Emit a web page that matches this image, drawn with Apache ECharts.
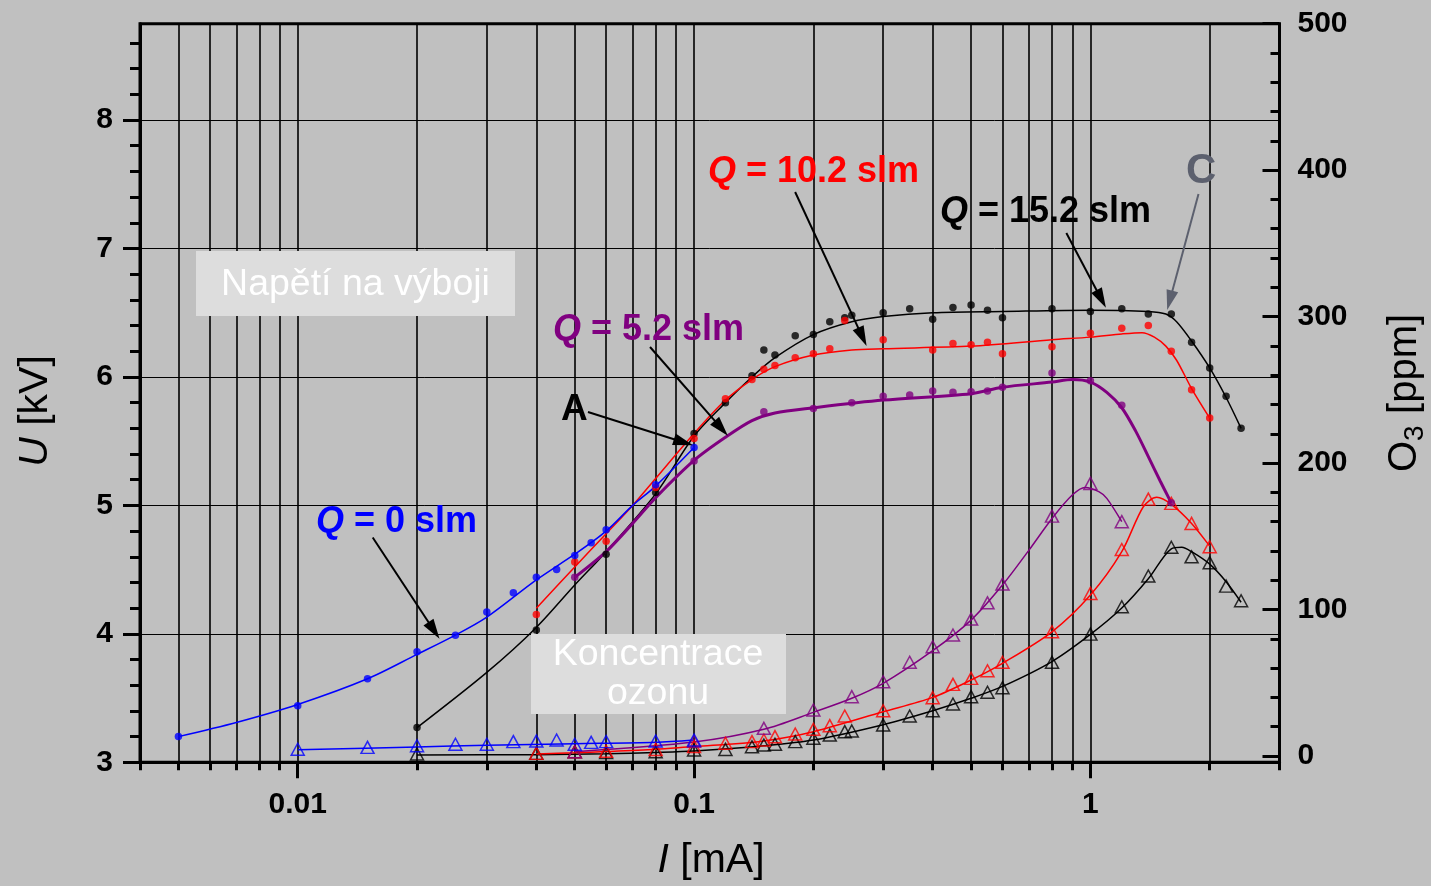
<!DOCTYPE html>
<html>
<head>
<meta charset="utf-8">
<title>U and O3 vs I</title>
<script src="https://cdn.jsdelivr.net/npm/echarts@6/dist/echarts.min.js"></script>
<style>
  html, body { margin: 0; padding: 0; background: #c0c0c0; }
  #chart { width: 1431px; height: 886px; }
</style>
</head>
<body>
<div id="chart"></div>
<script>
// ---- Discharge voltage U [kV] vs current I [mA]: measured points ----
const uQ0 = [[0.005,3.20],[0.01,3.44],[0.015,3.65],[0.02,3.86],[0.025,3.99],[0.03,4.17],[0.035,4.32],[0.04,4.44],[0.045,4.50],[0.05,4.61],[0.055,4.71],[0.06,4.81],[0.08,5.16],[0.1,5.45]];
const uQ5 = [[0.05,4.44],[0.1,5.345],[0.15,5.73],[0.2,5.755],[0.25,5.80],[0.3,5.85],[0.35,5.86],[0.4,5.89],[0.45,5.88],[0.5,5.885],[0.55,5.89],[0.6,5.92],[0.8,6.03],[1.0,5.97],[1.2,5.78],[1.6,5.02]];
const uQ10 = [[0.04,4.15],[0.05,4.56],[0.06,4.72],[0.08,5.14],[0.1,5.52],[0.12,5.83],[0.14,5.98],[0.15,6.06],[0.16,6.09],[0.18,6.15],[0.2,6.18],[0.22,6.22],[0.24,6.44],[0.3,6.29],[0.4,6.21],[0.45,6.26],[0.5,6.25],[0.55,6.27],[0.6,6.18],[0.8,6.235],[1.0,6.34],[1.2,6.38],[1.4,6.40],[1.6,6.20],[1.8,5.90],[2.0,5.68]];
const uQ15 = [[0.02,3.27],[0.04,4.03],[0.06,4.62],[0.08,5.10],[0.1,5.56],[0.12,5.80],[0.14,6.01],[0.15,6.21],[0.16,6.17],[0.18,6.32],[0.2,6.33],[0.22,6.43],[0.24,6.46],[0.25,6.48],[0.3,6.50],[0.35,6.53],[0.4,6.45],[0.45,6.54],[0.5,6.56],[0.55,6.52],[0.6,6.46],[0.8,6.53],[1.0,6.51],[1.2,6.53],[1.4,6.49],[1.6,6.49],[1.8,6.27],[2.0,6.07],[2.2,5.85],[2.4,5.60]];

// ---- U fitted curves ----
const uFitQ0 = [[0.005,3.20],[0.007,3.31],[0.01,3.45],[0.015,3.65],[0.02,3.84],[0.025,3.99],[0.03,4.13],[0.04,4.42],[0.05,4.62],[0.06,4.80],[0.07,5.00],[0.08,5.15],[0.1,5.45]];
const uFitQ5 = [[0.05,4.44],[0.06,4.64],[0.07,4.86],[0.08,5.06],[0.1,5.35],[0.12,5.53],[0.14,5.66],[0.16,5.72],[0.2,5.76],[0.3,5.82],[0.5,5.87],[0.6,5.92],[0.8,5.96],[0.9,5.98],[1.0,5.96],[1.1,5.88],[1.2,5.76],[1.3,5.58],[1.4,5.38],[1.5,5.19],[1.6,5.02]];
const uFitQ10 = [[0.04,4.20],[0.05,4.52],[0.06,4.78],[0.07,5.00],[0.08,5.21],[0.1,5.56],[0.12,5.82],[0.14,5.98],[0.16,6.08],[0.2,6.17],[0.25,6.21],[0.3,6.22],[0.5,6.24],[0.8,6.29],[1.0,6.31],[1.2,6.335],[1.35,6.345],[1.45,6.31],[1.55,6.24],[1.65,6.13],[1.8,5.91],[2.0,5.68]];
const uFitQ15 = [[0.02,3.27],[0.03,3.70],[0.04,4.05],[0.05,4.38],[0.06,4.64],[0.08,5.09],[0.1,5.54],[0.12,5.80],[0.14,6.00],[0.16,6.15],[0.2,6.33],[0.25,6.43],[0.3,6.47],[0.4,6.50],[0.6,6.51],[1.0,6.52],[1.4,6.51],[1.55,6.49],[1.65,6.43],[1.8,6.28],[2.0,6.07],[2.2,5.84],[2.4,5.60]];

// ---- Ozone concentration O3 [ppm] vs I [mA]: measured points ----
const o3Q0 = [[0.01,4.6],[0.015,5.9],[0.02,7.0],[0.025,8.0],[0.03,8.0],[0.035,9.8],[0.04,10.2],[0.045,10.9],[0.05,8.0],[0.055,9.3],[0.06,9.8],[0.08,10.2],[0.1,10.9]];
const o3Q5 = [[0.05,2.9],[0.1,10.0],[0.15,18.9],[0.2,31.4],[0.25,40.5],[0.3,50.7],[0.35,64],[0.4,74.6],[0.45,82.6],[0.5,93.5],[0.55,104.6],[0.6,117.4],[0.8,163.8],[1.0,186.1],[1.2,160]];
const o3Q10 = [[0.04,1.8],[0.05,2.9],[0.06,3.2],[0.08,4.5],[0.1,6.5],[0.12,8.7],[0.14,9.8],[0.15,10.9],[0.16,13.2],[0.18,15.0],[0.2,18.2],[0.22,20.7],[0.24,27.3],[0.3,30.9],[0.4,39.8],[0.45,48.9],[0.5,53],[0.55,58.2],[0.6,64],[0.8,84.8],[1.0,111],[1.2,141],[1.4,175.4],[1.6,172.5],[1.8,158.8],[2.0,142.9]];
const o3Q15 = [[0.02,1.4],[0.04,1.8],[0.05,2.9],[0.06,2.3],[0.08,2.9],[0.1,4.1],[0.12,4.5],[0.14,6.3],[0.15,7.5],[0.16,8.0],[0.18,9.8],[0.2,12.1],[0.22,14.3],[0.24,16.6],[0.25,17.1],[0.3,21.2],[0.35,27.3],[0.4,30.9],[0.45,35.5],[0.5,40.5],[0.55,43.5],[0.6,46.6],[0.8,64],[1.0,83.2],[1.2,101.9],[1.4,122.9],[1.6,142.5],[1.8,136],[2.0,132],[2.2,116],[2.4,106]];

// ---- O3 fitted curves ----
const o3FitQ0 = [[0.01,4.2],[0.02,6.2],[0.03,7.3],[0.05,8.4],[0.08,9.4],[0.1,11]];
const o3FitQ5 = [[0.05,2.9],[0.1,9.5],[0.15,18.2],[0.2,29.8],[0.25,39.4],[0.3,49.6],[0.4,71.9],[0.5,92.8],[0.6,116.7],[0.7,140.6],[0.8,162.2],[0.9,178.2],[0.97,183.4],[1.05,180.5],[1.1,175.9],[1.2,160]];
const o3FitQ10 = [[0.04,1.4],[0.05,2.2],[0.06,3.0],[0.08,4.6],[0.1,6.5],[0.12,7.8],[0.15,10.2],[0.2,16.6],[0.3,30.2],[0.4,40],[0.5,51.9],[0.6,63.3],[0.8,84.8],[1.0,109.9],[1.2,139.5],[1.36,170.2],[1.47,176.6],[1.6,171.8],[1.8,158.8],[2.0,143.3]];
const o3FitQ15 = [[0.02,0.7],[0.04,0.9],[0.06,1.5],[0.08,2.4],[0.1,3.4],[0.15,7.0],[0.2,10.9],[0.3,21.4],[0.4,30.9],[0.5,39.4],[0.6,47.5],[0.8,64.5],[1.0,83],[1.2,101],[1.4,121],[1.6,141.5],[1.7,142.5],[1.8,139.5],[2.0,131],[2.2,119],[2.4,105]];

// ---- Axis ticks ----
const iMajorTicks = [0.01, 0.1, 1];
const iMinorTicks = [0.004,0.005,0.006,0.007,0.008,0.009,0.01,0.02,0.03,0.04,0.05,0.06,0.07,0.08,0.09,0.1,0.2,0.3,0.4,0.5,0.6,0.7,0.8,0.9,1,2,3];
const uMajorTicks = [3, 4, 5, 6, 7, 8];
const uMinorTicks = [3.2,3.4,3.6,3.8,4.2,4.4,4.6,4.8,5.2,5.4,5.6,5.8,6.2,6.4,6.6,6.8,7.2,7.4,7.6,7.8,8.2,8.4,8.6];

const FONT = '"Liberation Sans", Arial, Helvetica, sans-serif';
const C_BLUE = '#0000ff', C_RED = '#ff0000', C_BLACK = '#000000', C_PURPLE = '#800080', C_GREYC = '#5c606e';

const chart = echarts.init(document.getElementById('chart'), null, { renderer: 'canvas' });

const I_MIN = 0.004, I_MAX = 3;

function fitLine(pts, color, width, xi, yi) {
  return { type: 'line', data: pts, xAxisIndex: xi, yAxisIndex: yi, smooth: 0.3,
    symbol: 'none', showSymbol: false, silent: true, z: 3,
    lineStyle: { color: color, width: width } };
}
function dots(pts, color) {
  return { type: 'scatter', data: pts, xAxisIndex: 0, yAxisIndex: 0, symbol: 'circle',
    symbolSize: 7.5, silent: true, z: 4, itemStyle: { color: color } };
}
function triangles(pts, color) {
  return { type: 'scatter', data: pts, xAxisIndex: 2, yAxisIndex: 1, symbol: 'triangle',
    symbolSize: [13, 12], silent: true, z: 4,
    itemStyle: { color: 'rgba(0,0,0,0)', borderColor: color, borderWidth: 1.5 } };
}

// annotation arrows, expressed in (I, U) coordinates
function arrow(from, to, color) {
  return [{ coord: from, lineStyle: { color: color, width: 2, type: 'solid' } }, { coord: to }];
}
const arrows = [
  arrow([0.01546, 4.750], [0.02207, 4.026], C_BLACK),
  arrow([0.05399, 5.727], [0.09402, 5.491], C_BLACK),
  arrow([0.07743, 6.233], [0.1171, 5.601], C_BLACK),
  arrow([0.1799, 7.440], [0.2659, 6.312], C_BLACK),
  arrow([0.8696, 7.120], [1.065, 6.607], C_BLACK),
  arrow([1.874, 7.424], [1.586, 6.596], C_GREYC)
];

function qLabel(rest, color, x, y) {
  return { type: 'text', x: x, y: y, z: 100,
    style: { text: '{q|Q}{t|' + rest + '}', align: 'left', verticalAlign: 'middle',
      rich: {
        q: { fontFamily: FONT, fontSize: 36, fontWeight: 'bold', fontStyle: 'italic', fill: color },
        t: { fontFamily: FONT, fontSize: 36, fontWeight: 'bold', fill: color }
      } } };
}

const logAxisBase = { type: 'log', logBase: 10, min: I_MIN, max: I_MAX, gridIndex: 0, position: 'bottom' };
const tickLabelStyle = { color: '#000', fontFamily: FONT, fontSize: 30, fontWeight: 'bold' };

const option = {
  animation: false,
  backgroundColor: '#c0c0c0',
  grid: [
    { left: 140, right: 151.5, top: 23.7, bottom: 123.7, show: true, borderColor: '#000', borderWidth: 3,
      backgroundColor: 'transparent', containLabel: false, outerBoundsMode: 'none' },
    { left: 140, right: 151.5, top: 23.7, bottom: 130, show: false, containLabel: false, outerBoundsMode: 'none' }
  ],
  xAxis: [
    Object.assign({}, logAxisBase, {
      axisLine: { show: true, onZero: false, lineStyle: { color: '#000', width: 3 } },
      axisTick: { show: true, inside: false, length: 8, customValues: iMinorTicks, lineStyle: { color: '#000', width: 3 } },
      axisLabel: { show: false },
      splitLine: { show: true, lineStyle: { color: '#000', width: 1.6 } },
      minorTick: { show: false }, minorSplitLine: { show: false }
    }),
    Object.assign({}, logAxisBase, {
      axisLine: { show: false, onZero: false },
      axisTick: { show: true, inside: false, length: 16, customValues: iMajorTicks, lineStyle: { color: '#000', width: 3 } },
      axisLabel: Object.assign({ show: true, customValues: iMajorTicks, margin: 27,
        formatter: function (v) { return String(+(+v).toPrecision(6)); } }, tickLabelStyle),
      splitLine: { show: false }
    }),
    { type: 'log', logBase: 10, min: I_MIN, max: I_MAX, gridIndex: 1, show: false }
  ],
  yAxis: [
    { type: 'value', gridIndex: 0, position: 'left', min: 3, max: 8.75,
      axisLine: { show: true, onZero: false, lineStyle: { color: '#000', width: 3 } },
      axisTick: { show: true, inside: false, length: 17, customValues: uMajorTicks, lineStyle: { color: '#000', width: 3 } },
      axisLabel: Object.assign({ show: true, customValues: uMajorTicks, margin: 27 }, tickLabelStyle),
      splitLine: { show: true, lineStyle: { color: '#000', width: 1 } }
    },
    { type: 'value', gridIndex: 1, position: 'right', min: 0, max: 500, interval: 100,
      axisLine: { show: false, onZero: false },
      axisTick: { show: true, inside: true, length: 17, lineStyle: { color: '#000', width: 3 } },
      minorTick: { show: true, splitNumber: 5, length: 9, lineStyle: { color: '#000', width: 3 } },
      axisLabel: Object.assign({ show: true, margin: 18 }, tickLabelStyle),
      splitLine: { show: false }
    },
    { type: 'value', gridIndex: 0, position: 'left', min: 3, max: 8.75,
      axisLine: { show: false, onZero: false },
      axisTick: { show: true, inside: false, length: 10, customValues: uMinorTicks, lineStyle: { color: '#000', width: 3 } },
      axisLabel: { show: false },
      splitLine: { show: false }
    }
  ],
  series: [
    // ozone curves (right axis)
    fitLine(o3FitQ15, C_BLACK, 1.5, 2, 1),
    fitLine(o3FitQ10, C_RED, 1.5, 2, 1),
    fitLine(o3FitQ5, C_PURPLE, 1.5, 2, 1),
    fitLine(o3FitQ0, C_BLUE, 1.5, 2, 1),
    triangles(o3Q15, C_BLACK),
    triangles(o3Q10, C_RED),
    triangles(o3Q5, C_PURPLE),
    triangles(o3Q0, C_BLUE),
    // voltage curves (left axis)
    Object.assign(fitLine(uFitQ15, C_BLACK, 1.5, 0, 0), {
      markLine: { silent: true, animation: false, symbol: ['none', 'triangle'], symbolSize: [12, 20],
        lineStyle: { type: 'solid', width: 2 },
        label: { show: false }, emphasis: { disabled: true }, data: arrows }
    }),
    fitLine(uFitQ10, C_RED, 1.5, 0, 0),
    fitLine(uFitQ5, C_PURPLE, 3, 0, 0),
    fitLine(uFitQ0, C_BLUE, 1.5, 0, 0),
    dots(uQ15, C_BLACK),
    dots(uQ10, C_RED),
    dots(uQ5, C_PURPLE),
    dots(uQ0, C_BLUE)
  ],
  graphic: [
    // boxed captions
    { type: 'rect', shape: { x: 196, y: 251, width: 319, height: 65 }, style: { fill: '#dddddd' }, z: 90 },
    { type: 'text', x: 355.5, y: 285, z: 100, style: { text: 'Napětí na výboji', align: 'center', verticalAlign: 'middle',
      fontFamily: FONT, fontSize: 37.5, fill: '#ffffff' } },
    { type: 'rect', shape: { x: 531, y: 634, width: 255, height: 80 }, style: { fill: '#dddddd' }, z: 90 },
    { type: 'text', x: 658, y: 655, z: 100, style: { text: 'Koncentrace', align: 'center', verticalAlign: 'middle',
      fontFamily: FONT, fontSize: 37.5, fill: '#ffffff' } },
    { type: 'text', x: 658, y: 694, z: 100, style: { text: 'ozonu', align: 'center', verticalAlign: 'middle',
      fontFamily: FONT, fontSize: 37.5, fill: '#ffffff' } },
    // curve labels
    qLabel(' = 0 slm', C_BLUE, 316, 522),
    qLabel(' = 5.2 slm', C_PURPLE, 553, 330),
    qLabel(' = 10.2 slm', C_RED, 708, 172),
    qLabel(' = 15.2 slm', C_BLACK, 940, 212),
    { type: 'text', x: 561, y: 410, z: 100, style: { text: 'A', align: 'left', verticalAlign: 'middle',
      fontFamily: FONT, fontSize: 37, fontWeight: 'bold', fill: C_BLACK } },
    { type: 'text', x: 1186, y: 171, z: 100, style: { text: 'C', align: 'left', verticalAlign: 'middle',
      fontFamily: FONT, fontSize: 42, fontWeight: 'bold', fill: C_GREYC } },
    // axis titles
    { type: 'text', x: 36, y: 411, rotation: Math.PI / 2, z: 100,
      style: { text: '{i|U} [kV]', align: 'center', verticalAlign: 'middle', fontFamily: FONT, fontSize: 41, fill: '#000',
        rich: { i: { fontFamily: FONT, fontSize: 41, fontStyle: 'italic', fill: '#000' } } } },
    { type: 'text', x: 711, y: 861, z: 100,
      style: { text: '{i|I} [mA]', align: 'center', verticalAlign: 'middle', fontFamily: FONT, fontSize: 41, fill: '#000',
        rich: { i: { fontFamily: FONT, fontSize: 41, fontStyle: 'italic', fill: '#000' } } } },
    { type: 'group', x: 1405, y: 393, rotation: Math.PI / 2, z: 100, children: [
      { type: 'text', x: -79, y: 0, style: { text: 'O', align: 'left', verticalAlign: 'middle', fontFamily: FONT, fontSize: 40, fill: '#000' } },
      { type: 'text', x: -48, y: 10, style: { text: '3', align: 'left', verticalAlign: 'middle', fontFamily: FONT, fontSize: 28, fill: '#000' } },
      { type: 'text', x: -32, y: 0, style: { text: ' [ppm]', align: 'left', verticalAlign: 'middle', fontFamily: FONT, fontSize: 40, fill: '#000' } }
    ] }
  ]
};

chart.setOption(option);
</script>
</body>
</html>
